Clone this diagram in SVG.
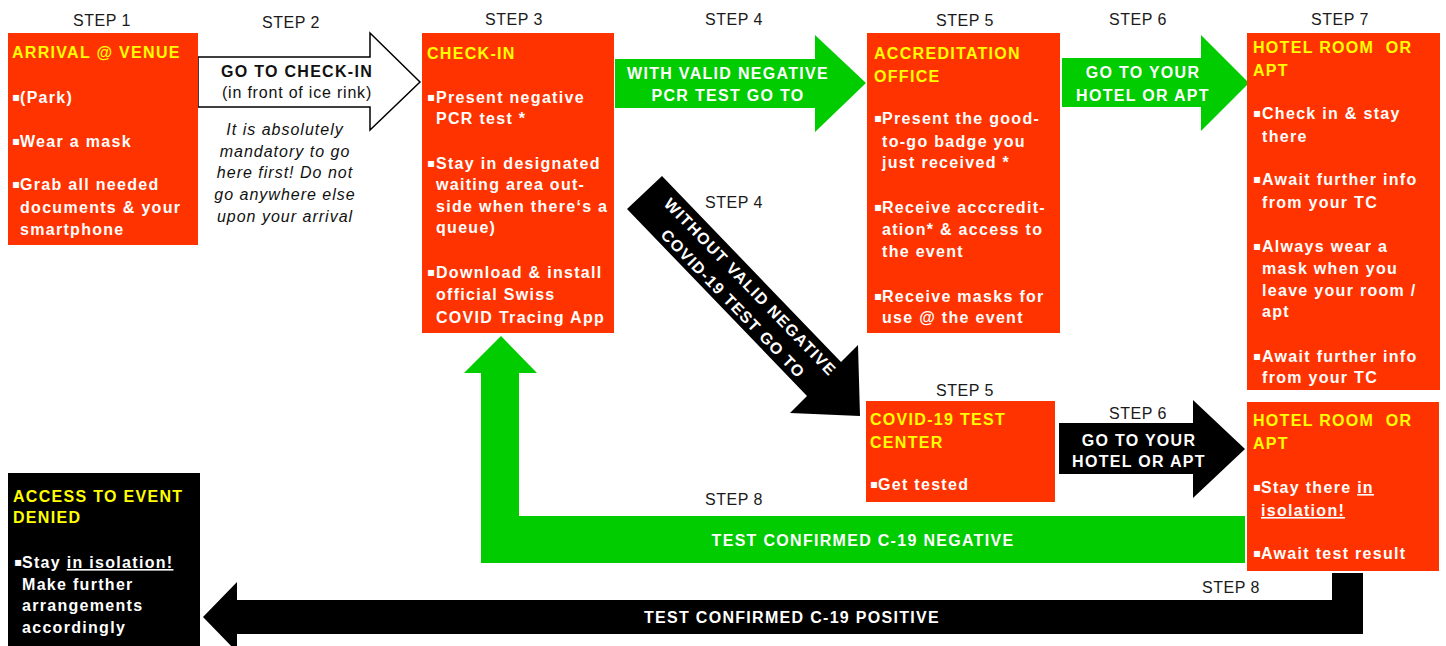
<svg xmlns="http://www.w3.org/2000/svg" width="1446" height="646" viewBox="0 0 1446 646">
<style>
.box{fill:#FF3300}
.dbox{fill:#000000}
.grn{fill:#00CC00}
.blk{fill:#000000}
.wht{fill:#FFFFFF;stroke:#000;stroke-width:1.5}
.t{font-family:"Liberation Sans",Arial,sans-serif;font-size:16px;font-weight:bold;letter-spacing:1.3px;fill:#FFFFFF}
.h{fill:#FFFF00}
.c{text-anchor:middle}
.dk{fill:#111111}
.n{font-weight:normal;letter-spacing:0.8px}
.i{font-style:italic;font-weight:normal;letter-spacing:1px;fill:#111111}
.step{font-family:"Liberation Sans",Arial,sans-serif;font-size:16px;letter-spacing:0.5px;fill:#1a1a1a;text-anchor:middle}
.b{font-family:"DejaVu Sans",sans-serif;font-size:12px;letter-spacing:0;baseline-shift:2px}
.u{text-decoration:underline}
</style>

<!-- step labels -->
<g id="labels">
<text class="step" x="102" y="26">STEP 1</text>
<text class="step" x="291" y="28">STEP 2</text>
<text class="step" x="514" y="25">STEP 3</text>
<text class="step" x="734" y="25">STEP 4</text>
<text class="step" x="965" y="26">STEP 5</text>
<text class="step" x="1138" y="25">STEP 6</text>
<text class="step" x="1340" y="25">STEP 7</text>
<text class="step" x="734" y="208">STEP 4</text>
<text class="step" x="965" y="396">STEP 5</text>
<text class="step" x="1138" y="419">STEP 6</text>
<text class="step" x="734" y="505">STEP 8</text>
<text class="step" x="1231" y="593">STEP 8</text>
</g>

<!-- connectors -->
<g id="connectors">
<g id="arrow-step2">
<polygon class="wht" points="198,57 370,57 370,33 420,82 370,130 370,107 198,107"/>
<text class="t dk c" x="297" y="77" style="fill:#111">GO TO CHECK-IN</text>
<text class="t n c" x="297" y="98" style="fill:#111">(in front of ice rink)</text>
<text class="t i c" x="285" y="135">It is absolutely</text>
<text class="t i c" x="285" y="157">mandatory to go</text>
<text class="t i c" x="285" y="178">here first! Do not</text>
<text class="t i c" x="285" y="200">go anywhere else</text>
<text class="t i c" x="285" y="222">upon your arrival</text>
</g>
<g id="arrow-step4-valid">
<polygon class="grn" points="615,59 815,59 815,35 866,83 815,132 815,108 615,108"/>
<text class="t c" x="728" y="79">WITH VALID NEGATIVE</text>
<text class="t c" x="728" y="101">PCR TEST GO TO</text>
</g>
<g id="arrow-step4-invalid">
<polygon class="blk" points="627,209 662,176 841,362 858,345 860,416 790,413 807,396"/>
<g transform="translate(742,295) rotate(46)">
<text class="t c" x="0" y="-6">WITHOUT VALID NEGATIVE</text>
<text class="t c" x="0" y="18">COVID-19 TEST GO TO</text>
</g>
</g>
<g id="arrow-step6-top">
<polygon class="grn" points="1062,58 1201,58 1201,35 1249,83 1201,131 1201,107 1062,107"/>
<text class="t c" x="1143" y="78">GO TO YOUR</text>
<text class="t c" x="1143" y="101">HOTEL OR APT</text>
</g>
<g id="arrow-step6-bottom">
<polygon class="blk" points="1059,423 1193,423 1193,400 1245,449 1193,498 1193,474 1059,474"/>
<text class="t c" x="1139" y="446">GO TO YOUR</text>
<text class="t c" x="1139" y="467">HOTEL OR APT</text>
</g>
<g id="arrow-step8-negative">
<polygon class="grn" points="481,563 1245,563 1245,516 519,516 519,373 537,373 501,336 464,373 481,373"/>
<text class="t c" x="863" y="546">TEST CONFIRMED C-19 NEGATIVE</text>
</g>
<g id="arrow-step8-positive">
<polygon class="blk" points="1332,573 1363,573 1363,634 237,634 237,652 203,617 237,582 237,600 1332,600"/>
<text class="t c" x="792" y="623">TEST CONFIRMED C-19 POSITIVE</text>
</g>
</g>

<!-- nodes -->
<g id="arrival">
<rect class="box" x="8" y="33" width="190" height="212"/>
<text class="t h" x="12" y="58">ARRIVAL @ VENUE</text>
<text class="t" x="12" y="103"><tspan class="b">▪</tspan><tspan x="20">(Park)</tspan></text>
<text class="t" x="12" y="147"><tspan class="b">▪</tspan><tspan x="20">Wear a mask</tspan></text>
<text class="t" x="12" y="190"><tspan class="b">▪</tspan><tspan x="20">Grab all needed</tspan></text>
<text class="t" x="20" y="213">documents &amp; your</text>
<text class="t" x="20" y="235">smartphone</text>
</g>

<g id="checkin">
<rect class="box" x="422" y="33" width="192" height="300"/>
<text class="t h" x="427" y="59">CHECK-IN</text>
<text class="t" x="427" y="103"><tspan class="b">▪</tspan><tspan x="436">Present negative</tspan></text>
<text class="t" x="436" y="124">PCR test *</text>
<text class="t" x="427" y="169"><tspan class="b">▪</tspan><tspan x="436">Stay in designated</tspan></text>
<text class="t" x="436" y="190">waiting area out-</text>
<text class="t" x="436" y="212">side when there‘s a</text>
<text class="t" x="436" y="233">queue)</text>
<text class="t" x="427" y="278"><tspan class="b">▪</tspan><tspan x="436">Download &amp; install</tspan></text>
<text class="t" x="436" y="300">official Swiss</text>
<text class="t" x="436" y="323">COVID Tracing App</text>
</g>

<g id="accreditation">
<rect class="box" x="867" y="33" width="193" height="300"/>
<text class="t h" x="874" y="59">ACCREDITATION</text>
<text class="t h" x="874" y="82">OFFICE</text>
<text class="t" x="874" y="124"><tspan class="b">▪</tspan><tspan x="882">Present the good-</tspan></text>
<text class="t" x="882" y="147">to-go badge you</text>
<text class="t" x="882" y="168">just received *</text>
<text class="t" x="874" y="213"><tspan class="b">▪</tspan><tspan x="882">Receive acccredit-</tspan></text>
<text class="t" x="882" y="235">ation* &amp; access to</text>
<text class="t" x="882" y="257">the event</text>
<text class="t" x="874" y="302"><tspan class="b">▪</tspan><tspan x="882">Receive masks for</tspan></text>
<text class="t" x="882" y="323">use @ the event</text>
</g>

<g id="hotel-top">
<rect class="box" x="1247" y="33" width="193" height="357"/>
<text class="t h" x="1253" y="53" xml:space="preserve">HOTEL ROOM  OR</text>
<text class="t h" x="1253" y="76">APT</text>
<text class="t" x="1253" y="119"><tspan class="b">▪</tspan><tspan x="1262">Check in &amp; stay</tspan></text>
<text class="t" x="1262" y="142">there</text>
<text class="t" x="1253" y="185"><tspan class="b">▪</tspan><tspan x="1262">Await further info</tspan></text>
<text class="t" x="1262" y="208">from your TC</text>
<text class="t" x="1253" y="252"><tspan class="b">▪</tspan><tspan x="1262">Always wear a</tspan></text>
<text class="t" x="1262" y="274">mask when you</text>
<text class="t" x="1262" y="296">leave your room /</text>
<text class="t" x="1262" y="317">apt</text>
<text class="t" x="1253" y="362"><tspan class="b">▪</tspan><tspan x="1262">Await further info</tspan></text>
<text class="t" x="1262" y="383">from your TC</text>
</g>

<g id="test-center">
<rect class="box" x="866" y="401" width="189" height="101"/>
<text class="t h" x="870" y="425">COVID-19 TEST</text>
<text class="t h" x="870" y="448">CENTER</text>
<text class="t" x="870" y="490"><tspan class="b">▪</tspan><tspan x="878">Get tested</tspan></text>
</g>

<g id="hotel-bottom">
<rect class="box" x="1247" y="402" width="192" height="169"/>
<text class="t h" x="1253" y="426" xml:space="preserve">HOTEL ROOM  OR</text>
<text class="t h" x="1253" y="449">APT</text>
<text class="t" x="1253" y="493"><tspan class="b">▪</tspan><tspan x="1261">Stay there </tspan><tspan class="u">in</tspan></text>
<text class="t u" x="1261" y="516">isolation!</text>
<text class="t" x="1253" y="559"><tspan class="b">▪</tspan><tspan x="1261">Await test result</tspan></text>
</g>

<g id="access-denied">
<rect class="dbox" x="8" y="473" width="192" height="173"/>
<text class="t h" x="13" y="502">ACCESS TO EVENT</text>
<text class="t h" x="13" y="523">DENIED</text>
<text class="t" x="14" y="568"><tspan class="b">▪</tspan><tspan x="22">Stay </tspan><tspan class="u">in isolation!</tspan></text>
<text class="t" x="22" y="590">Make further</text>
<text class="t" x="22" y="611">arrangements</text>
<text class="t" x="22" y="633">accordingly</text>
</g>
</svg>
